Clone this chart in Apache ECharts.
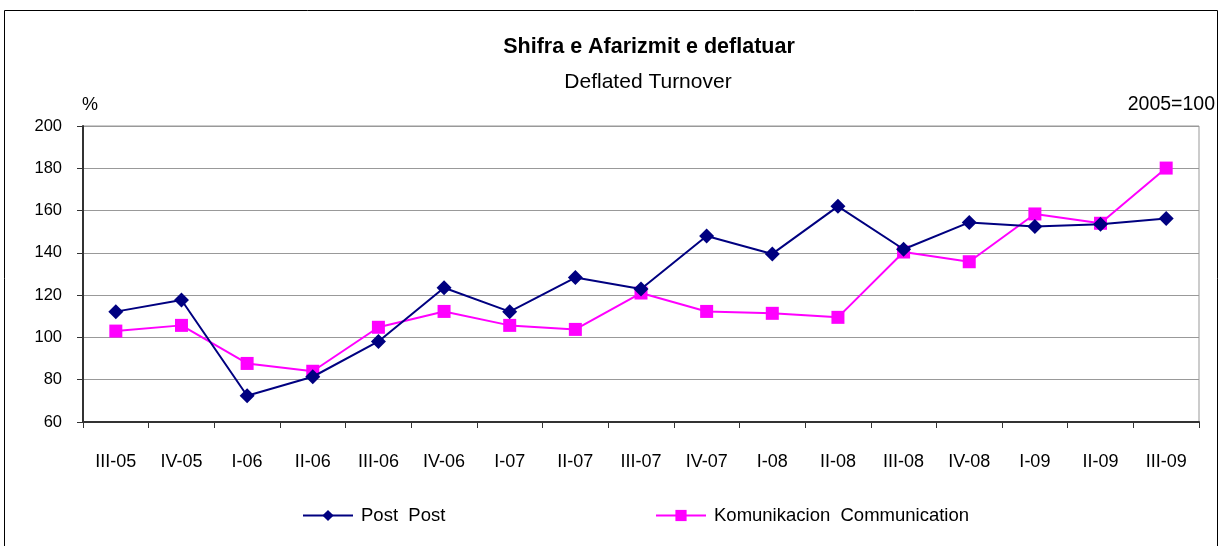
<!DOCTYPE html>
<html><head><meta charset="utf-8">
<script src="https://cdn.jsdelivr.net/npm/echarts@6/dist/echarts.min.js"></script>
<style>html,body{margin:0;padding:0;background:#fff}#c{width:1220px;height:546px}</style>
</head><body><div id="c"></div>
<script>
const categories = ['III-05','IV-05','I-06','II-06','III-06','IV-06','I-07','II-07','III-07','IV-07','I-08','II-08','III-08','IV-08','I-09','II-09','III-09'];
const postValues = [112.2,117.7,72.4,81.4,98.1,123.5,112.2,128.3,122.9,148,139.5,162,141.7,154.4,152.5,153.5,156.3];
const commValues = [103,105.7,87.7,84,104.8,112.3,105.7,103.8,121,112.3,111.4,109.5,140.4,135.8,158.4,154,180.1];
const yTicks = [60,80,100,120,140,160,180,200];
const seriesNames = ['Post  Post','Komunikacion  Communication'];

const FONT = '"Liberation Sans",Arial,sans-serif';
const chart = echarts.init(document.getElementById('c'), null, {renderer:'canvas'});
chart.setOption({
  animation:false,
  backgroundColor:'#fff',
  textStyle:{fontFamily:FONT},
  graphic:[
    {type:'rect',shape:{x:4.5,y:10.5,width:1213,height:545},style:{fill:'none',stroke:'#000',lineWidth:1}},
    {type:'text',x:649,y:36,style:{text:'Shifra e Afarizmit e deflatuar',font:'bold 21.5px '+FONT,fill:'#000',textAlign:'center'}},
    {type:'text',x:648,y:72,style:{text:'Deflated Turnover',font:'21px '+FONT,fill:'#000',textAlign:'center'}},
    {type:'text',x:82,y:96,style:{text:'%',font:'18px '+FONT,fill:'#000'}},
    {type:'text',x:1215,y:95,style:{text:'2005=100',font:'19.5px '+FONT,fill:'#000',textAlign:'right'}}
  ],
  grid:{left:83,right:21,top:126,bottom:124,show:true,borderColor:'#999',borderWidth:1},
  legend:[
    {data:[seriesNames[0]],left:297,top:501,itemWidth:50,itemHeight:14,itemGap:8,textStyle:{fontSize:18.5,fontFamily:FONT,color:'#000',padding:[0,0,0,3]}},
    {data:[seriesNames[1]],left:650,top:501,itemWidth:50,itemHeight:14,itemGap:8,textStyle:{fontSize:18.5,fontFamily:FONT,color:'#000',padding:[0,0,0,3]}}
  ],
  xAxis:{type:'category',data:categories,boundaryGap:true,
    axisLine:{lineStyle:{color:'#333',width:2}},
    axisTick:{show:true,length:6,interval:0,lineStyle:{color:'#333'}},
    axisLabel:{interval:0,fontSize:18,color:'#000',margin:31,fontFamily:FONT},
    splitLine:{show:false}},
  yAxis:{type:'value',min:60,max:200,interval:20,
    axisLine:{show:true,lineStyle:{color:'#333',width:2}},
    axisTick:{show:true,length:6,lineStyle:{color:'#333'}},
    axisLabel:{fontSize:16.5,color:'#000',margin:21,fontFamily:FONT},
    splitLine:{lineStyle:{color:'#999',width:1}}},
  series:[
    {name:seriesNames[0],type:'line',data:postValues,color:'#000080',symbol:'diamond',symbolSize:15,
      lineStyle:{width:2,color:'#000080'},itemStyle:{color:'#000080'},z:3},
    {name:seriesNames[1],type:'line',data:commValues,color:'#FF00FF',symbol:'rect',symbolSize:13,
      lineStyle:{width:2,color:'#FF00FF'},itemStyle:{color:'#FF00FF'},z:2}
  ]
});
</script></body></html>
